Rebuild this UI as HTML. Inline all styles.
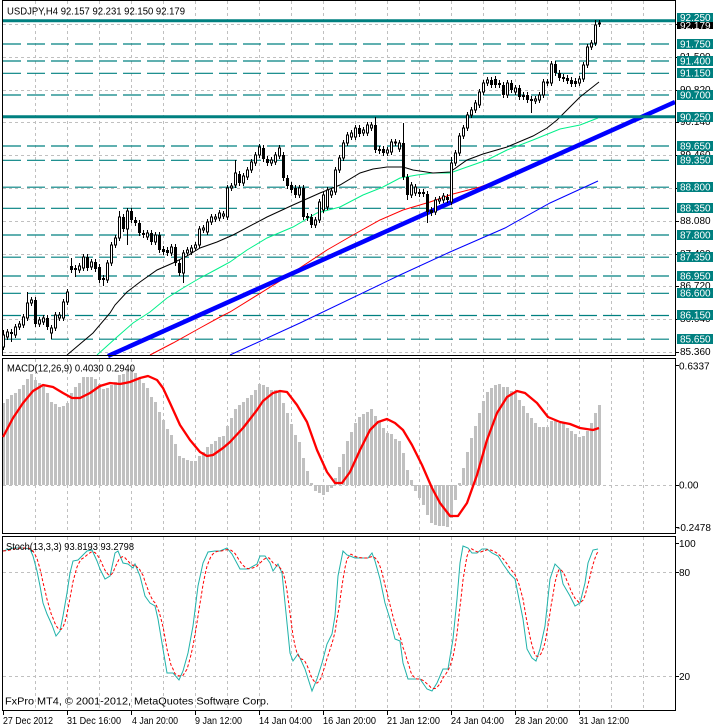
<!DOCTYPE html>
<html><head><meta charset="utf-8">
<style>
html,body{margin:0;padding:0;background:#fff;width:713px;height:728px;overflow:hidden}
svg{display:block}
text{font-family:"Liberation Sans",sans-serif;font-size:10px;fill:#000}
.w{fill:#fff}
</style></head><body>
<svg id="s" width="713" height="728" viewBox="0 0 713 728" xmlns="http://www.w3.org/2000/svg">
<rect x="0" y="0" width="713" height="728" fill="#fff"/>
<!-- vertical grid -->
<g id="vgrid" stroke="#c0c0c0" stroke-width="1" stroke-dasharray="3 3"></g>
<!-- main horizontal grid -->
<g stroke="#c0c0c0" stroke-width="1" stroke-dasharray="3 3">
<line x1="3" x2="675" y1="24.5" y2="24.5"/><line x1="3" x2="675" y1="57.5" y2="57.5"/><line x1="3" x2="675" y1="90.5" y2="90.5"/><line x1="3" x2="675" y1="122.5" y2="122.5"/><line x1="3" x2="675" y1="155.5" y2="155.5"/><line x1="3" x2="675" y1="188.5" y2="188.5"/><line x1="3" x2="675" y1="221.5" y2="221.5"/><line x1="3" x2="675" y1="254.5" y2="254.5"/><line x1="3" x2="675" y1="286.5" y2="286.5"/><line x1="3" x2="675" y1="319.5" y2="319.5"/><line x1="3" x2="675" y1="352.5" y2="352.5"/>
<line x1="3" x2="675" y1="485.5" y2="485.5"/>
<line x1="3" x2="675" y1="572.5" y2="572.5"/><line x1="3" x2="675" y1="676.5" y2="676.5"/>
</g>
<!-- teal dashed levels -->
<g stroke="#008080" stroke-width="1.2" stroke-dasharray="18 6">
<line x1="3" x2="675" y1="44" y2="44"/><line x1="3" x2="675" y1="61" y2="61"/><line x1="3" x2="675" y1="73.3" y2="73.3"/><line x1="3" x2="675" y1="95" y2="95"/><line x1="3" x2="675" y1="146" y2="146"/><line x1="3" x2="675" y1="160.3" y2="160.3"/><line x1="3" x2="675" y1="187.2" y2="187.2"/><line x1="3" x2="675" y1="208.3" y2="208.3"/><line x1="3" x2="675" y1="235" y2="235"/><line x1="3" x2="675" y1="257.2" y2="257.2"/><line x1="3" x2="675" y1="276" y2="276"/><line x1="3" x2="675" y1="293.3" y2="293.3"/><line x1="3" x2="675" y1="315.5" y2="315.5"/><line x1="3" x2="675" y1="339.2" y2="339.2"/>
</g>
<!-- MAs -->
<g fill="none" stroke-width="1">
<polyline stroke="#0000ff" points="230,355 300,323 400,275 450,252 505,228 550,203 598,181"/>
<polyline stroke="#ff0000" points="150,355 173,343 200,328 220,317 230,312 280,281 327,250 353,235 380,220 403,210 430,202 453,194 480,187 510,176 540,162 560,153 598,137"/>
<polyline stroke="#00f08a" points="97,355 117,337 133,323 150,312 167,298 183,288 200,278 217,269 230,262 247,250 267,238 293,227 317,213 340,207 363,195 383,187 400,178 417,175 433,173 450,173 467,167 487,160 507,150 533,140 560,129 580,125 598,118"/>
<polyline stroke="#000000" points="67,355 93,333 110,313 115,305 127,292 140,282 157,270 173,263 187,256 200,248 217,242 233,235 267,217 293,205 320,193 340,185 360,173 373,169 387,167 403,167 413,170 433,173 450,172 467,160 483,154 507,147 533,136 547,128 557,120 567,110 580,97 599,82"/>
</g>
<!-- thick trendline -->
<line x1="108" y1="356" x2="675" y2="102" stroke="#0000ff" stroke-width="4.5"/>
<!-- teal solid levels -->
<line x1="3" x2="675" y1="20.7" y2="20.7" stroke="#008080" stroke-width="3"/>
<line x1="3" x2="675" y1="116.7" y2="116.7" stroke="#008080" stroke-width="3"/>
<!-- candles -->
<g id="candles"></g>
<!-- MACD -->
<g id="macd" fill="#c0c0c0"></g>
<polyline fill="none" stroke="#ff0000" stroke-width="2.3" stroke-linejoin="round" points="3,437 13,418 23,403 33,391 43,385 53,387 63,393 72,398 80,398 90,393 100,386 110,383 120,384 130,382 140,378 148,376 157,380 163,388 170,403 180,425 190,440 200,452 207,456 213,455 223,448 230,442 243,428 257,410 263,401 273,393 280,391 287,392 297,405 307,422 317,450 327,472 335,483 342,483 350,472 360,450 370,430 378,422 387,419 395,423 403,430 412,445 422,465 432,488 440,503 450,516 458,516 467,503 477,475 487,440 497,413 507,397 517,391 525,393 537,403 548,417 560,422 570,424 580,428 593,430 599,428"/>
<!-- Stoch -->
<polyline id="stm" fill="none" stroke="#20b2aa" stroke-width="1" points="3,551 13,548 23,548 30,549 33,556 37,571 40,586 43,603 47,614 52,625 56,636 60,631 63,616 67,593 70,573 73,561 78,560 82,556 87,551 92,550 97,561 100,569 105,579 110,576 115,553 118,551 123,563 128,564 133,568 135,564 140,576 145,596 150,603 155,606 158,619 163,649 167,673 173,673 179,680 183,671 188,653 193,626 198,586 203,563 208,552 215,551 220,551 227,548 232,554 240,569 248,569 257,564 260,556 265,556 270,563 273,571 278,564 282,573 285,603 290,653 293,661 298,654 300,658 305,669 312,691 317,679 322,663 327,644 332,634 335,616 338,576 343,551 347,555 350,556 355,558 368,558 372,553 375,561 380,579 385,603 390,619 395,639 400,641 403,663 408,679 415,679 420,679 427,689 432,691 437,683 443,669 448,669 453,639 457,599 460,563 463,546 468,548 472,553 477,553 482,549 487,549 492,553 498,556 503,564 510,574 515,579 518,594 523,619 527,649 532,658 536,661 540,649 545,626 550,579 555,564 560,569 563,584 570,596 575,606 580,603 585,583 588,563 593,550 598,549"/>
<polyline id="sts" fill="none" stroke="#ff0000" stroke-width="1" stroke-dasharray="3 2" points=""/>
<!-- panel borders -->
<g fill="none" stroke="#000" stroke-width="1">
<rect x="2.5" y="0.5" width="673" height="355"/>
<rect x="2.5" y="358.5" width="673" height="175"/>
<rect x="2.5" y="536.5" width="673" height="174"/>
</g>
<!-- right axis ticks -->
<g stroke="#000" stroke-width="1">
<line x1="675" x2="679" y1="24.5" y2="24.5"/><line x1="675" x2="679" y1="57.5" y2="57.5"/><line x1="675" x2="679" y1="90.5" y2="90.5"/><line x1="675" x2="679" y1="122.5" y2="122.5"/><line x1="675" x2="679" y1="155.5" y2="155.5"/><line x1="675" x2="679" y1="188.5" y2="188.5"/><line x1="675" x2="679" y1="221.5" y2="221.5"/><line x1="675" x2="679" y1="254.5" y2="254.5"/><line x1="675" x2="679" y1="286.5" y2="286.5"/><line x1="675" x2="679" y1="319.5" y2="319.5"/><line x1="675" x2="679" y1="352.5" y2="352.5"/>
<line x1="675" x2="679" y1="365.5" y2="365.5"/><line x1="675" x2="679" y1="485.5" y2="485.5"/><line x1="675" x2="679" y1="527.5" y2="527.5"/>
<line x1="675" x2="679" y1="543.5" y2="543.5"/><line x1="675" x2="679" y1="572.5" y2="572.5"/><line x1="675" x2="679" y1="676.5" y2="676.5"/>
<line x1="3.5" x2="3.5" y1="711" y2="715"/><line x1="67.5" x2="67.5" y1="711" y2="715"/><line x1="131.5" x2="131.5" y1="711" y2="715"/><line x1="195.5" x2="195.5" y1="711" y2="715"/><line x1="259.5" x2="259.5" y1="711" y2="715"/><line x1="323.5" x2="323.5" y1="711" y2="715"/><line x1="387.5" x2="387.5" y1="711" y2="715"/><line x1="451.5" x2="451.5" y1="711" y2="715"/><line x1="515.5" x2="515.5" y1="711" y2="715"/><line x1="579.5" x2="579.5" y1="711" y2="715"/>
</g>
<!-- right axis black labels -->
<g>
<text x="680" y="60">91.500</text><text x="680" y="93">90.820</text><text x="680" y="125">90.140</text><text x="680" y="158">89.460</text><text x="680" y="191">88.780</text><text x="680" y="224">88.080</text><text x="680" y="257">87.400</text><text x="680" y="289">86.720</text><text x="680" y="322">86.040</text><text x="680" y="355">85.360</text>
</g>
<!-- current price box -->
<rect x="677" y="21" width="36" height="8" fill="#000"/>
<text x="680" y="29" class="w">92.179</text>
<!-- teal level boxes -->
<g fill="#008080">
<rect x="677" y="13" width="36" height="9"/>
<rect x="677" y="39" width="36" height="10"/>
<rect x="677" y="56" width="36" height="10"/>
<rect x="677" y="68" width="36" height="10"/>
<rect x="677" y="90" width="36" height="10"/>
<rect x="677" y="112" width="36" height="10"/>
<rect x="677" y="141" width="36" height="10"/>
<rect x="677" y="155" width="36" height="10"/>
<rect x="677" y="182" width="36" height="10"/>
<rect x="677" y="203" width="36" height="10"/>
<rect x="677" y="230" width="36" height="10"/>
<rect x="677" y="252" width="36" height="10"/>
<rect x="677" y="271" width="36" height="10"/>
<rect x="677" y="288" width="36" height="10"/>
<rect x="677" y="310" width="36" height="10"/>
<rect x="677" y="334" width="36" height="10"/>
</g>
<g class="w">
<text x="680" y="21" class="w">92.250</text>
<text x="680" y="47.5" class="w">91.750</text>
<text x="680" y="64.5" class="w">91.400</text>
<text x="680" y="76.5" class="w">91.150</text>
<text x="680" y="98.5" class="w">90.700</text>
<text x="680" y="120.5" class="w">90.250</text>
<text x="680" y="149.5" class="w">89.650</text>
<text x="680" y="163.5" class="w">89.350</text>
<text x="680" y="190.5" class="w">88.800</text>
<text x="680" y="211.5" class="w">88.350</text>
<text x="680" y="238.5" class="w">87.800</text>
<text x="680" y="260.5" class="w">87.350</text>
<text x="680" y="279.5" class="w">86.950</text>
<text x="680" y="296.5" class="w">86.600</text>
<text x="680" y="318.5" class="w">86.150</text>
<text x="680" y="342.5" class="w">85.650</text>
</g>
<!-- indicator axis labels -->
<text x="679" y="369.5">0.6337</text>
<text x="679" y="488.5">0.00</text>
<text x="677" y="531">-0.2478</text>
<text x="679" y="547">100</text>
<text x="679" y="576">80</text>
<text x="679" y="680">20</text>
<!-- titles -->
<text x="7" y="14.5" textLength="178" lengthAdjust="spacingAndGlyphs">USDJPY,H4  92.157 92.231 92.150 92.179</text>
<text x="7" y="371.5" textLength="128" lengthAdjust="spacingAndGlyphs">MACD(12,26,9) 0.4030 0.2940</text>
<text x="6" y="550" textLength="128" lengthAdjust="spacingAndGlyphs">Stoch(13,3,3) 93.8193 93.2798</text>
<text x="5" y="704.5" textLength="264" lengthAdjust="spacingAndGlyphs">FxPro MT4, © 2001-2012, MetaQuotes Software Corp.</text>
<!-- time labels -->
<g>
<text x="3" y="724" textLength="50" lengthAdjust="spacingAndGlyphs">27 Dec 2012</text>
<text x="67" y="724" textLength="54" lengthAdjust="spacingAndGlyphs">31 Dec 16:00</text>
<text x="132" y="724" textLength="46" lengthAdjust="spacingAndGlyphs">4 Jan 20:00</text>
<text x="195" y="724" textLength="47" lengthAdjust="spacingAndGlyphs">9 Jan 12:00</text>
<text x="259" y="724" textLength="53" lengthAdjust="spacingAndGlyphs">14 Jan 04:00</text>
<text x="323" y="724" textLength="53" lengthAdjust="spacingAndGlyphs">16 Jan 20:00</text>
<text x="387" y="724" textLength="53" lengthAdjust="spacingAndGlyphs">21 Jan 12:00</text>
<text x="451" y="724" textLength="53" lengthAdjust="spacingAndGlyphs">24 Jan 04:00</text>
<text x="515" y="724" textLength="53" lengthAdjust="spacingAndGlyphs">28 Jan 20:00</text>
<text x="579" y="724" textLength="50" lengthAdjust="spacingAndGlyphs">31 Jan 12:00</text>
</g>
</svg>
<script>
(function(){
var NS="http://www.w3.org/2000/svg";
function el(tag,attrs,parent){var e=document.createElementNS(NS,tag);for(var k in attrs){e.setAttribute(k,attrs[k]);}parent.appendChild(e);return e;}
// vertical grid
var vg=document.getElementById('vgrid');
for(var k=0;k<20;k++){var x=35.5+32*k;el('line',{x1:x,x2:x,y1:1,y2:355},vg);el('line',{x1:x,x2:x,y1:359,y2:533},vg);el('line',{x1:x,x2:x,y1:537,y2:710},vg);}
var O=[347,337,332,335,327,325,318,303,300,324,322,318,333,328,318,318,302,266,268,270,268,257,267,262,267,278,280,263,245,238,217,229,211,220,223,233,237,233,242,235,249,250,253,247,263,273,253,252,248,245,230,232,222,219,218,216,217,188,185,174,183,177,170,163,155,148,159,163,162,156,155,178,185,188,195,188,216,217,225,220,210,207,195,192,170,158,143,137,137,128,133,133,128,125,149,149,153,152,143,149,143,177,195,193,192,192,194,210,212,201,200,197,202,163,153,136,128,115,110,105,92,83,80,79,83,85,95,83,92,88,95,95,99,101,100,95,83,83,64,73,77,78,80,81,83,79,65,47,43,24];
var C=[335,332,334,327,324,317,303,300,324,320,318,327,328,315,315,302,292,270,270,266,257,268,262,269,280,280,263,245,238,217,229,211,220,223,233,235,233,242,235,250,252,253,247,263,273,253,250,248,245,229,228,222,217,217,213,214,188,186,173,183,176,170,162,155,147,159,163,160,155,148,178,186,190,195,188,217,218,225,220,202,195,190,191,170,158,143,135,133,128,134,130,125,125,150,151,153,150,142,142,143,177,195,185,187,194,194,212,213,200,199,196,200,163,153,136,128,115,110,103,92,83,80,85,85,85,95,83,90,88,97,97,100,101,99,95,82,82,64,73,78,79,81,84,84,79,65,47,43,25,23];
var ov={0:[330,350],2:[null,342],6:[292,null],12:[null,339],16:[289,null],17:[258,null],18:[null,277],25:[null,286],29:[211,null],31:[null,245],45:[null,283],58:[160,null],93:[117,null],100:[123,null],101:[null,200],106:[null,223],112:[157,null],132:[null,113],148:[20,null],149:[20,null]};
var g=document.getElementById('candles');
var wick='',bear='';
for(var i=0;i<O.length;i++){
 var x=3.5+4*i,o=O[i],c=C[i];
 var t=Math.min(o,c),b=Math.max(o,c);
 var hi=t-3,lo=b+3;
 if(ov[i]){if(ov[i][0]!=null)hi=ov[i][0];if(ov[i][1]!=null)lo=ov[i][1];}
 wick+='M'+x+' '+hi+'V'+lo;
 if(b-t<1){wick+='M'+(x-1.5)+' '+t+'h3';}
 else if(c<o){ /* bull drawn after */ }
 else {bear+='M'+(x-1.5)+' '+t+'h3V'+b+'h-3Z';}
}
el('path',{d:wick,stroke:'#000','stroke-width':1,fill:'none'},g);
el('path',{d:bear,fill:'#000'},g);
for(var i=0;i<O.length;i++){
 var x=3.5+4*i,o=O[i],c=C[i];
 if(c<o && o-c>=1){el('rect',{x:x-1,y:c,width:2,height:o-c,fill:'#fff',stroke:'#000','stroke-width':1},g);}
}
// MACD
var M=[403,399,395,393,389,385,379,374,380,383,386,393,402,404,407,406,403,393,387,383,377,377,377,379,384,389,388,385,382,375,374,370,368,373,378,383,388,397,402,412,420,429,435,444,456,458,460,461,461,456,452,447,444,441,437,436,426,418,409,405,402,398,395,390,384,385,387,390,390,392,403,413,424,435,442,458,471,483,491,493,495,492,488,478,467,454,441,432,423,417,414,412,409,416,422,428,433,434,439,441,453,470,480,491,498,505,515,523,525,526,526,527,518,500,483,468,452,438,426,413,401,392,388,385,384,387,387,391,393,400,406,413,418,423,427,427,427,421,421,423,423,428,431,434,437,436,431,423,413,405];
var mg=document.getElementById('macd');var md='';
var Z=485;
for(var i=0;i<M.length;i++){var x=3.5+4*i;var a=Math.min(M[i],Z),b=Math.max(M[i],Z);if(b-a<1)b=a+1;md+='M'+(x-1.5)+' '+a+'h3V'+b+'h-3Z';}
el('path',{d:md},mg);
// Stoch signal
var pts=document.getElementById('stm').getAttribute('points').trim().split(/\s+/).map(function(p){return p.split(',').map(Number);});
function ip(x){if(x<=pts[0][0])return pts[0][1];for(var k=1;k<pts.length;k++){if(x<=pts[k][0]){var a=pts[k-1],b=pts[k];return a[1]+(b[1]-a[1])*(x-a[0])/(b[0]-a[0]);}}return pts[pts.length-1][1];}
var s='';for(var x=3;x<=599;x+=2){var v=(ip(x)+ip(x-4)+ip(x-8))/3;s+=x+','+v.toFixed(1)+' ';}
document.getElementById('sts').setAttribute('points',s.trim());
// bring MACD signal above bars
var sig=mg.nextElementSibling; if(sig){sig.parentNode.appendChild(sig);} 
// keep labels/borders on top: move them after
var svg=document.getElementById('s');
var kids=Array.prototype.slice.call(svg.children);
var startMove=false;
for(var j=0;j<kids.length;j++){ if(kids[j].getAttribute && kids[j].getAttribute('id')==='sts'){startMove=true;continue;} if(startMove){svg.appendChild(kids[j]);} }
})();
</script>
</body></html>
